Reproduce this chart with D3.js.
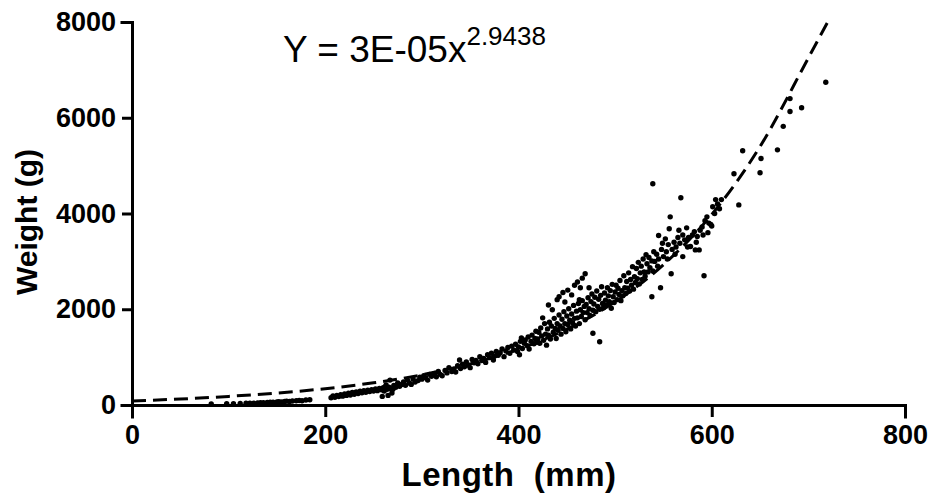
<!DOCTYPE html>
<html>
<head>
<meta charset="utf-8">
<script src="https://cdn.jsdelivr.net/npm/d3@7"></script>
<style>
  body { margin: 0; background: #fff; }
  svg text { font-family: "Liberation Sans", Arial, sans-serif; }
</style>
</head>
<body>
<div id="chart"></div>
<script>
// measured fish: [length mm, weight g], split by size range
const smallFish = [
  [82,20],[98,25],[105,28],[112,30],[118,35],[122,40],[126,38],[130,45],[133,50],[136,48],
  [140,55],[143,60],[146,58],[150,65],[152,70],[155,62],[158,75],[160,80],[163,72],[166,85],
  [170,90],[173,95],[176,88],[180,105],[184,110],
  [206,150],[208,190],[210,160],[212,200],[214,175],[216,215],[218,185],[220,230],[222,200],[224,245],
  [226,210],[228,260],[230,225],[232,275],[234,240],[236,290],[238,255],[240,300],[242,265],[244,310],
  [246,280],[248,320],[250,290],[252,335],[254,300],[256,345],[258,320],[259,180],[260,360],[261,290],
  [262,380],[263,420],[264,330],[265,200],[266,370],[267,520],[268,340],[269,250]
];
const mediumFish = [
  [270,330],[271,410],[273,370],[275,460],[277,390],[279,430],[281,480],[283,410],[285,520],[287,460],
  [289,430],[291,540],[293,480],[296,510],[298,580],[300,540],[302,610],[304,570],[306,520],[308,640],
  [310,600],[313,660],[315,590],[317,700],[319,640],[321,610],[324,720],[326,670],[328,780],[331,700],
  [333,750],[335,690],[337,820],[339,940],[340,760],[342,850],[344,800],[346,900],[348,830],[350,780],
  [352,950],[354,880],[356,930],[358,860],[360,1010],[362,930],[364,970],[366,890],[368,1050],[370,990],
  [372,1080],[374,940],[375,1020],[377,1120],[379,1040],[381,1090],[383,1170],[385,1010],[387,1130],[389,1200],
  [391,1080],[393,1230],[395,1150],[397,1270],[399,1120],[400,1210],[401,1050],[402,1330],[403,1400],[404,1180],
  [406,1290],[407,1360],[409,1240],[410,1420],[411,1170],[413,1330],[414,1460],[416,1280],[417,1390],[418,1540],
  [419,1310]
];
const largeFish = [
  [420,1380],[421,1520],[422,1290],[423,1610],[424,1440],[425,1820],[426,1350],[427,1700],[428,1480],[429,1250],
  [430,1590],[431,2090],[431,1460],[432,1730],[433,1380],[434,1650],[435,1990],[436,1520],[437,1810],[438,1600],
  [439,1390],[440,1700],[440,2200],[441,1560],[442,2260],[442,1880],[443,1650],[444,1480],[445,1790],[446,2350],
  [446,1600],[447,1950],[448,1700],[448,2150],[449,1530],[450,1860],[451,2400],[451,1680],[452,2010],[453,1770],
  [454,1590],[455,2300],[455,1900],[456,1720],[457,2080],[458,2500],[458,1810],[459,1650],[460,1960],[461,2570],
  [461,1820],[462,2120],[463,2200],[463,1700],[464,2450],[464,1990],[465,1850],[466,2650],[466,2180],[467,1930],
  [468,2060],[469,2740],[469,1780],[470,2100],[471,1930],[472,2240],[473,2450],[473,2010],[474,1870],[475,2160],
  [476,2320],[477,1500],[477,1980],[478,2110],[479,2250],[480,1950],[481,2380],[482,2060],[483,2210],[484,1320],
  [484,2000],[485,2290],[486,2470],[487,2120],[488,2030],[489,2340],[490,2190],[491,2090],[492,2450],[493,2280],
  [494,2160],[495,2390],[496,2020],[497,2520],[498,2260],[499,2140],[500,2360],[501,2500],[502,2200],[503,2440],
  [504,2310],[505,2600],[506,2180],[507,2390],[508,2280],[509,2700],[510,2450],[511,2330],[512,2580],[513,2440],
  [514,2760],[515,2380],[516,2620],[517,2500],[518,2890],[519,2420],[520,2680],[521,2560],[522,2850],[523,2640],
  [524,2980],[525,2530],[526,2760],[527,2900],[528,2620],[529,3050],[530,2780],[531,2690],[532,3140],[533,2950],
  [534,2780],[535,3080],[536,2870],[538,2260],[538,3010],[539,2800],[540,3200]
];
const biggestFish = [
  [539,4620],[541,3000],[543,3150],[544,2900],[545,3540],[545,3050],[547,2450],[548,3250],[549,3380],[550,3100],
  [552,3470],[553,3200],[554,3050],[555,3350],[556,3680],[557,3930],[558,2740],[559,3250],[561,3400],[562,3150],
  [563,3300],[565,3500],[566,3650],[567,3380],[568,4330],[570,3100],[570,3550],[572,3450],[574,3700],[575,3300],
  [576,3500],[578,3310],[580,3550],[582,3620],[583,3240],[584,3400],[585,3520],[587,3240],[588,3650],[590,3720],
  [591,3550],[592,2700],[593,3850],[595,3930],[596,3600],[597,3800],[599,3770],[600,3740],[601,4140],[603,4000],
  [604,4290],[606,4200],[608,4100],[610,4290],[623,4830],[628,4180],[632,5310],[650,4850],[651,5150],[668,5330],
  [674,5820],[681,6130],[681,6400],[693,6210],[718,6740]
];

// fitted curve
const fitLength = [0, 50, 100, 150, 200, 250, 300, 350, 400, 450, 500, 550, 600, 650, 700, 720];
const fitWeight = [85, 125, 180, 250, 341, 464, 630, 857, 1166, 1585, 2155, 2930, 3980, 5400, 7250, 8000];

const xTicks = [0, 200, 400, 600, 800];
const yTicks = [0, 2000, 4000, 6000, 8000];

const width = 935;
const height = 499;

const svg = d3.select("#chart")
  .append("svg")
  .attr("width", width)
  .attr("height", height);

const x = d3.scaleLinear().domain([0, 800]).range([132, 905]);
const y = d3.scaleLinear().domain([0, 8000]).range([405, 22]);

// axes
const xAxis = svg.append("g")
  .attr("transform", `translate(0,${y(0)})`)
  .call(d3.axisBottom(x).tickValues(xTicks).tickFormat(d3.format("d"))
    .tickSizeOuter(0).tickSize(12).tickPadding(8));
const yAxis = svg.append("g")
  .attr("transform", `translate(${x(0)},0)`)
  .call(d3.axisLeft(y).tickValues(yTicks).tickFormat(d3.format("d"))
    .tickSizeOuter(0).tickSize(10).tickPadding(6));

[xAxis, yAxis].forEach(g => {
  g.selectAll("path, line").attr("stroke", "#000").attr("stroke-width", 3);
  g.selectAll("text")
    .attr("fill", "#000")
    .style("font-size", "27px")
    .style("font-weight", "bold");
  g.select(".domain").attr("stroke-linecap", "square");
});

// fitted line
const fitData = fitLength.map((l, i) => [l, fitWeight[i]]);
svg.append("path")
  .datum(fitData)
  .attr("fill", "none")
  .attr("stroke", "#000")
  .attr("stroke-width", 3)
  .attr("stroke-dasharray", "14,7")
  .attr("d", d3.line()
    .x(d => x(d[0]))
    .y(d => y(d[1]))
    .curve(d3.curveMonotoneX));

// points
const allFish = smallFish.concat(mediumFish, largeFish, biggestFish);
svg.selectAll(".fish")
  .data(allFish)
  .join("circle")
  .attr("class", "fish")
  .attr("cx", d => x(d[0]))
  .attr("cy", d => y(d[1]))
  .attr("r", 2.7)
  .attr("fill", "#000");

// axis titles
svg.append("text")
  .attr("x", 509)
  .attr("y", 486)
  .attr("text-anchor", "middle")
  .style("font-size", "33px")
  .style("font-weight", "bold")
  .style("letter-spacing", "0.5px")
  .style("white-space", "pre")
  .text("Length  (mm)");

svg.append("text")
  .attr("transform", "translate(37,222) rotate(-90)")
  .attr("text-anchor", "middle")
  .style("font-size", "30px")
  .style("font-weight", "bold")
  .text("Weight (g)");

// equation
const eq = svg.append("text")
  .attr("x", 283)
  .attr("y", 62)
  .style("font-size", "37px");
eq.append("tspan").text("Y = 3E-05x");
eq.append("tspan")
  .attr("dy", -17)
  .style("font-size", "26px")
  .text("2.9438");
</script>
</body>
</html>
